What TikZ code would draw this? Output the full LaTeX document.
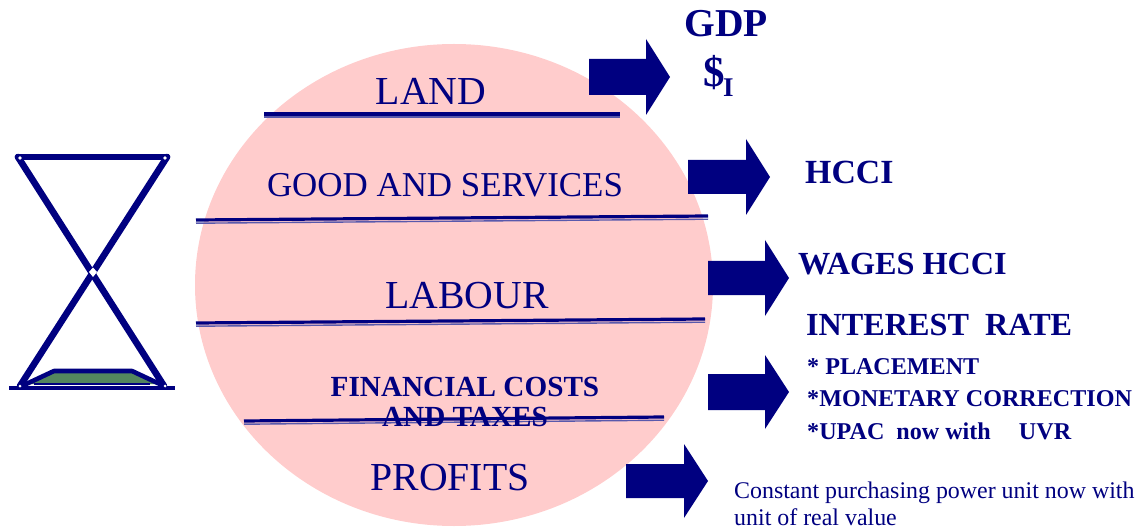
\documentclass[tikz,border=0pt]{standalone}
\usepackage{fontspec}
\setmainfont{Liberation Serif}
\definecolor{navy}{RGB}{0,0,128}
\definecolor{pinkfill}{RGB}{255,204,204}
\definecolor{sandgreen}{RGB}{84,134,94}
\newcommand{\fatarrow}[6]{% x0 xneck xtip ymid halfshaft halfhead
  \fill[navy] (#1,#4-#5) -- (#2,#4-#5) -- (#2,#4-#6) -- (#3,#4) -- (#2,#4+#6) -- (#2,#4+#5) -- (#1,#4+#5) -- cycle;}
\newcommand{\dblrule}[4]{% x1 y1 x2 y2
  \draw[navy,line width=3.2pt] (#1,#2) -- (#3,#4);
  \draw[navy!65,line width=1.4pt] (#1,#2+3.2) -- (#3,#4+3.2);}
\tikzset{
  big/.style={text=navy,font=\fontsize{39.7}{39.7}\selectfont,inner sep=0pt,anchor=center},
  mid/.style={text=navy,font=\fontsize{34.9}{34.9}\selectfont,inner sep=0pt,anchor=center},
  bold/.style={text=navy,font=\bfseries\fontsize{33.8}{33.8}\selectfont,inner sep=0pt,anchor=west},
  boldsm/.style={text=navy,font=\bfseries\fontsize{24.1}{24.1}\selectfont,inner sep=0pt,anchor=west},
  glass/.style={draw=navy,line width=6.6pt,line join=round,line cap=round}
}
\begin{document}
\begin{tikzpicture}[x=1pt,y=-1pt]
\useasboundingbox (0,0) rectangle (1140,529);
\fill[pinkfill] (454,285) ellipse [x radius=259,y radius=241];
% hourglass
\fill[sandgreen] (26,384) -- (54,372) -- (132,372) -- (160,384) -- cycle;
\draw[navy,line width=4.6pt,line join=round] (22,386) -- (54,371) -- (132,371) -- (164,386);
\draw[navy,line width=2pt] (34,384) -- (150,384);
\draw[glass] (18,157) -- (167,157);
\draw[glass] (18,157) -- (164,386);
\draw[glass] (167,157) -- (20,386);
\draw[navy,line width=3.6pt] (9,388) -- (175,388);
\fill[white] (93,277) -- (97,272) -- (93,267.5) -- (89,272) -- cycle;
\fill[white] (20,158) circle (1.8);
\fill[white] (165,158) circle (1.8);
\fill[white] (20,386) circle (1.5);
\fill[white] (165,386) circle (1.5);
% rules
\dblrule{264}{114}{620}{114}
\dblrule{196}{220}{708}{216}
\dblrule{196}{323}{705}{319}
\dblrule{244}{421}{664}{417}
% arrows
\fatarrow{589}{646}{670}{77}{18}{38}
\fatarrow{688}{746}{770}{177}{17}{38}
\fatarrow{708}{765}{789}{278}{17}{38}
\fatarrow{708}{765}{789}{392}{18}{37}
\fatarrow{626}{684}{708}{481}{17}{37}
% ring labels
\node[big] (land) at (431,91) {LAND};
\node[mid] (goods) at (445,185) {GOOD AND SERVICES};
\node[big] (labour) at (467,296) {LABOUR};
\node[text=navy,font=\bfseries\fontsize{29.2}{30}\selectfont,inner sep=0pt,align=center] (fin) at (465,402) {FINANCIAL COSTS\\AND TAXES};
\node[big] (profits) at (450,478) {PROFITS};
% right labels
\node[text=navy,font=\bfseries\fontsize{39.5}{39.5}\selectfont,inner sep=0pt] (gdp) at (726,24) {GDP};
\node[text=navy,font=\bfseries\fontsize{43}{43}\selectfont,inner sep=0pt,anchor=west] (si) at (703,73) {\$};
\node[text=navy,font=\bfseries\fontsize{27}{27}\selectfont,inner sep=0pt,anchor=west] (sub) at (723,88) {I};
\node[bold] (hcci) at (805,172) {HCCI};
\node[bold,font=\bfseries\fontsize{32.2}{32.2}\selectfont] (wages) at (798,264) {WAGES HCCI};
\node[bold,font=\bfseries\fontsize{32.2}{32.2}\selectfont] (rate) at (806,325) {INTEREST\ \ RATE};
\node[boldsm] (pl) at (807,367) {* PLACEMENT};
\node[boldsm] (mc) at (807,399) {*MONETARY CORRECTION};
\node[boldsm] (up) at (807,431) {*UPAC\ \ now with\ \ \ \ \,UVR};
\node[text=navy,font=\fontsize{23.9}{27.5}\selectfont,inner sep=0pt,align=left,anchor=north west] (unit) at (734,481.5) {Constant purchasing power unit now with\\unit of real value};
\end{tikzpicture}
\end{document}
